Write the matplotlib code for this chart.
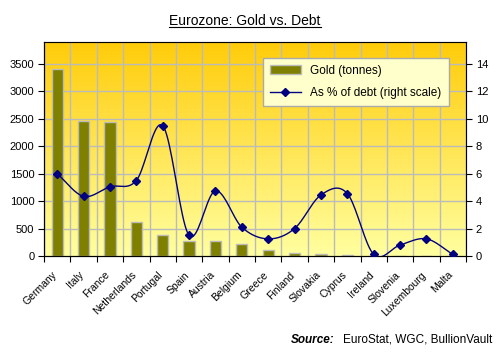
import numpy as np
import matplotlib.pyplot as plt
from matplotlib.lines import Line2D

countries = ['Germany', 'Italy', 'France', 'Netherlands', 'Portugal', 'Spain',
             'Austria', 'Belgium', 'Greece', 'Finland', 'Slovakia', 'Cyprus',
             'Ireland', 'Slovenia', 'Luxembourg', 'Malta']
gold_tonnes = [3401, 2452, 2435, 612, 382, 282, 280, 227, 112, 49, 31, 14, 6, 3, 2, 0.4]
pct_debt = [6.0, 4.35, 5.05, 5.5, 9.5, 1.5, 4.75, 2.1, 1.25, 2.0, 4.45, 4.55, 0.12, 0.8, 1.25, 0.12]

plt.rcParams['font.family'] = ['Liberation Sans', 'DejaVu Sans']


def catmull_rom(x, y, n=20):
    # smooth curve through the points, like Excel's "smoothed line"
    x = np.asarray(x, float)
    y = np.asarray(y, float)
    px = np.concatenate([[2 * x[0] - x[1]], x, [2 * x[-1] - x[-2]]])
    py = np.concatenate([[2 * y[0] - y[1]], y, [2 * y[-1] - y[-2]]])
    xs, ys = [], []
    t = np.linspace(0, 1, n, endpoint=False)
    for i in range(1, len(px) - 2):
        for p, out in ((px, xs), (py, ys)):
            p0, p1, p2, p3 = p[i - 1], p[i], p[i + 1], p[i + 2]
            out.extend(0.5 * (2 * p1 + (-p0 + p2) * t + (2 * p0 - 5 * p1 + 4 * p2 - p3) * t ** 2
                              + (-p0 + 3 * p1 - 3 * p2 + p3) * t ** 3))
    xs.append(x[-1])
    ys.append(y[-1])
    return np.array(xs), np.array(ys)


fig = plt.figure(figsize=(5.03, 3.55), dpi=100)
ax = fig.add_axes([44 / 503, 1 - 256 / 355, 422 / 503, 214 / 355])
x = np.arange(len(countries))
ax.set_xlim(-0.5, len(countries) - 0.5)
ax.set_ylim(0, 3900)

# gradient background
grad = np.linspace(0, 1, 256).reshape(-1, 1)
top = np.array([255, 204, 10]) / 255
bot = np.array([255, 255, 160]) / 255
img = top * (1 - grad[..., None]) + bot * grad[..., None]
img = img.reshape(256, 1, 3)
ax.imshow(img, extent=(-0.5, len(countries) - 0.5, 0, 3900), aspect='auto', zorder=0)

for k in range(len(countries) + 1):
    ax.axvline(k - 0.5, color='#BBBBBB', lw=1, zorder=1)
for v in range(500, 3900, 500):
    ax.axhline(v, color='#BBBBBB', lw=1, zorder=1)

ax.bar(x, gold_tonnes, width=0.43, color='#808000', edgecolor='#BBBBBB', lw=1,
       zorder=2, label='Gold (tonnes)')

ax.set_yticks(range(0, 3501, 500))
ax.set_xticks(np.arange(len(countries) + 1) - 0.5, minor=False)
ax.set_xticklabels([])
ax.tick_params(axis='y', labelsize=8, length=4, direction='out', pad=3)
ax.tick_params(axis='x', length=4, direction='out')
for sp in ['top', 'right']:
    ax.spines[sp].set_color('#808080')
ax.spines['left'].set_color('black')
ax.spines['bottom'].set_color('black')

for i, name in enumerate(countries):
    ax.text(i - 0.2, -250, name, rotation=45, rotation_mode='anchor',
            ha='right', va='top', fontsize=7.5)

ax2 = ax.twinx()
ax2.set_ylim(0, 15.6)
ax2.set_yticks(range(0, 15, 2))
ax2.tick_params(axis='y', labelsize=8, length=4, direction='out', pad=3)
ax2.spines['right'].set_color('black')
sx, sy = catmull_rom(x, pct_debt)
ax2.plot(sx, sy, color='#000080', lw=1, zorder=3)
ax2.plot(x, pct_debt, linestyle='none', marker='D', ms=4, color='#000080', zorder=4)

handles = [plt.Rectangle((0, 0), 1, 1, facecolor='#808000', edgecolor='#BBBBBB'),
           Line2D([], [], color='#000080', lw=1, marker='D', ms=4)]
leg = ax2.legend(handles, ['Gold (tonnes)', 'As % of debt (right scale)'],
                 loc='upper left', bbox_to_anchor=(0.505, 0.955), fontsize=8.5,
                 frameon=True, fancybox=False, facecolor='#FFFFCC', edgecolor='#AAAAAA',
                 framealpha=1, handlelength=2.6, borderpad=0.6, labelspacing=0.9)
leg.get_frame().set_linewidth(1)

t = fig.text(0.487, 1 - 21 / 355, 'Eurozone: Gold vs. Debt', ha='center', va='center', fontsize=10)
fig.canvas.draw()
bb = t.get_window_extent().transformed(fig.transFigure.inverted())
fig.add_artist(Line2D([bb.x0, bb.x1], [bb.y0 + 0.003, bb.y0 + 0.003], color='black', lw=0.8,
                      transform=fig.transFigure))

fig.text(492 / 503, 1 - 340 / 355, 'EuroStat, WGC, BullionVault', ha='right', va='center', fontsize=8.5)
fig.text(334 / 503, 1 - 340 / 355, 'Source:', ha='right', va='center', fontsize=8.5,
         fontweight='bold', fontstyle='italic')

fig.savefig('out.png', dpi=100)
